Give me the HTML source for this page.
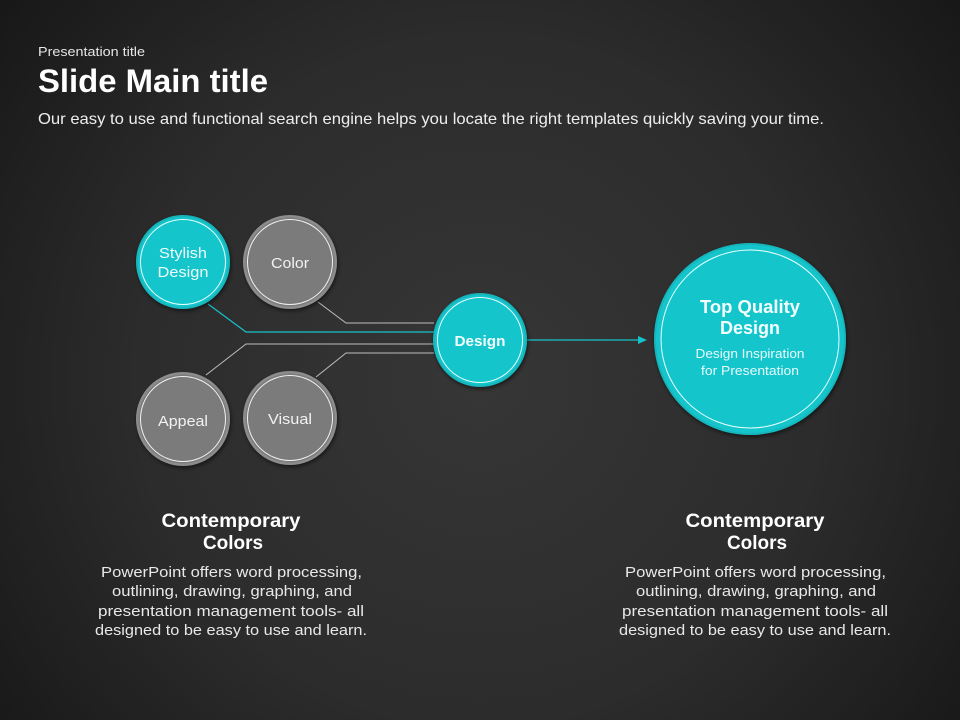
<!DOCTYPE html>
<html><head><meta charset="utf-8"><style>
html,body{margin:0;padding:0;background:#262626;}
svg{display:block;}
text{font-family:"Liberation Sans","DejaVu Sans",sans-serif;}
</style></head><body>
<svg width="960" height="720" viewBox="0 0 960 720" xmlns="http://www.w3.org/2000/svg">
<defs>
<radialGradient id="bg" cx="480" cy="380" r="620" gradientUnits="userSpaceOnUse">
<stop offset="0" stop-color="#363636"/>
<stop offset="0.55" stop-color="#2c2c2c"/>
<stop offset="1" stop-color="#171717"/>
</radialGradient>
<filter id="sh" x="-30%" y="-30%" width="160%" height="160%">
<feDropShadow dx="1" dy="2" stdDeviation="2" flood-color="#000" flood-opacity="0.55"/>
</filter>
</defs>
<rect width="960" height="720" fill="url(#bg)"/>

<text x="38" y="56" font-size="13" fill="#e6e6e6" textLength="107" lengthAdjust="spacingAndGlyphs">Presentation title</text>
<text x="38" y="92" font-size="32" font-weight="bold" fill="#ffffff" textLength="230" lengthAdjust="spacingAndGlyphs">Slide Main title</text>
<text x="38" y="124" font-size="16" fill="#eeeeee" textLength="786" lengthAdjust="spacingAndGlyphs">Our easy to use and functional search engine helps you locate the right templates quickly saving your time.</text>

<!-- connectors -->
<polyline points="318,302 346,323 434,323" fill="none" stroke="#bdbdbd" stroke-width="1"/>
<polyline points="208,304 246,332 434,332" fill="none" stroke="#14c3ca" stroke-width="1.2"/>
<polyline points="206,375 246,344 434,344" fill="none" stroke="#bdbdbd" stroke-width="1"/>
<polyline points="316,377 346,353 434,353" fill="none" stroke="#bdbdbd" stroke-width="1"/>
<line x1="527" y1="340" x2="640" y2="340" stroke="#14c3ca" stroke-width="1.2"/>
<polygon points="647,340 638,336 638,344" fill="#14c3ca"/>

<!-- Stylish Design -->
<g filter="url(#sh)"><circle cx="183" cy="262" r="47" fill="#19b6bd"/></g>
<circle cx="183" cy="262" r="45" fill="#14c5cc"/>
<circle cx="183" cy="262" r="42.5" fill="none" stroke="#e8ffff" stroke-width="1"/>
<text x="183" y="258" font-size="15" fill="#eefcfc" text-anchor="middle" textLength="48" lengthAdjust="spacingAndGlyphs">Stylish</text>
<text x="183" y="277" font-size="15" fill="#eefcfc" text-anchor="middle" textLength="51" lengthAdjust="spacingAndGlyphs">Design</text>

<!-- Color -->
<g filter="url(#sh)"><circle cx="290" cy="262" r="47" fill="#8c8c8c"/></g>
<circle cx="290" cy="262" r="44.5" fill="#7b7b7b"/>
<circle cx="290" cy="262" r="42.5" fill="none" stroke="#f2f2f2" stroke-width="1"/>
<text x="290" y="268" font-size="15" fill="#f2f2f2" text-anchor="middle" textLength="38" lengthAdjust="spacingAndGlyphs">Color</text>

<!-- Appeal -->
<g filter="url(#sh)"><circle cx="183" cy="419" r="47" fill="#8c8c8c"/></g>
<circle cx="183" cy="419" r="44.5" fill="#7b7b7b"/>
<circle cx="183" cy="419" r="42.5" fill="none" stroke="#f2f2f2" stroke-width="1"/>
<text x="183" y="426" font-size="15" fill="#f2f2f2" text-anchor="middle" textLength="50" lengthAdjust="spacingAndGlyphs">Appeal</text>

<!-- Visual -->
<g filter="url(#sh)"><circle cx="290" cy="418" r="47" fill="#8c8c8c"/></g>
<circle cx="290" cy="418" r="44.5" fill="#7b7b7b"/>
<circle cx="290" cy="418" r="42.5" fill="none" stroke="#f2f2f2" stroke-width="1"/>
<text x="290" y="424" font-size="15" fill="#f2f2f2" text-anchor="middle" textLength="44" lengthAdjust="spacingAndGlyphs">Visual</text>

<!-- Design hub -->
<g filter="url(#sh)"><circle cx="480" cy="340" r="47" fill="#19b6bd"/></g>
<circle cx="480" cy="340" r="45" fill="#14c5cc"/>
<circle cx="480" cy="340" r="42.5" fill="none" stroke="#e8ffff" stroke-width="1"/>
<text x="480" y="346" font-size="15" font-weight="bold" fill="#f4ffff" text-anchor="middle" textLength="51" lengthAdjust="spacingAndGlyphs">Design</text>

<!-- Big circle -->
<g filter="url(#sh)"><circle cx="750" cy="339" r="96" fill="#19b6bd"/></g>
<circle cx="750" cy="339" r="94" fill="#14c5cc"/>
<circle cx="750" cy="339" r="89" fill="none" stroke="#e8ffff" stroke-width="1"/>
<text x="750" y="313" font-size="18" font-weight="bold" fill="#f4ffff" text-anchor="middle" textLength="100" lengthAdjust="spacingAndGlyphs">Top Quality</text>
<text x="750" y="334" font-size="18" font-weight="bold" fill="#f4ffff" text-anchor="middle" textLength="60" lengthAdjust="spacingAndGlyphs">Design</text>
<text x="750" y="358" font-size="13" fill="#e6fbfb" text-anchor="middle" textLength="109" lengthAdjust="spacingAndGlyphs">Design Inspiration</text>
<text x="750" y="375" font-size="13" fill="#e6fbfb" text-anchor="middle" textLength="98" lengthAdjust="spacingAndGlyphs">for Presentation</text>

<!-- Left text block -->
<text x="231" y="527" font-size="19" font-weight="bold" fill="#ffffff" text-anchor="middle" textLength="139" lengthAdjust="spacingAndGlyphs">Contemporary</text>
<text x="233" y="549" font-size="19" font-weight="bold" fill="#ffffff" text-anchor="middle" textLength="60" lengthAdjust="spacingAndGlyphs">Colors</text>
<text x="231.5" y="577" font-size="15" fill="#e8e8e8" text-anchor="middle" textLength="261" lengthAdjust="spacingAndGlyphs">PowerPoint offers word processing,</text>
<text x="232" y="596" font-size="15" fill="#e8e8e8" text-anchor="middle" textLength="240" lengthAdjust="spacingAndGlyphs">outlining, drawing, graphing, and</text>
<text x="231" y="616" font-size="15" fill="#e8e8e8" text-anchor="middle" textLength="266" lengthAdjust="spacingAndGlyphs">presentation management tools- all</text>
<text x="231" y="635" font-size="15" fill="#e8e8e8" text-anchor="middle" textLength="272" lengthAdjust="spacingAndGlyphs">designed to be easy to use and learn.</text>

<!-- Right text block -->
<text x="755" y="527" font-size="19" font-weight="bold" fill="#ffffff" text-anchor="middle" textLength="139" lengthAdjust="spacingAndGlyphs">Contemporary</text>
<text x="757" y="549" font-size="19" font-weight="bold" fill="#ffffff" text-anchor="middle" textLength="60" lengthAdjust="spacingAndGlyphs">Colors</text>
<text x="755.5" y="577" font-size="15" fill="#e8e8e8" text-anchor="middle" textLength="261" lengthAdjust="spacingAndGlyphs">PowerPoint offers word processing,</text>
<text x="756" y="596" font-size="15" fill="#e8e8e8" text-anchor="middle" textLength="240" lengthAdjust="spacingAndGlyphs">outlining, drawing, graphing, and</text>
<text x="755" y="616" font-size="15" fill="#e8e8e8" text-anchor="middle" textLength="266" lengthAdjust="spacingAndGlyphs">presentation management tools- all</text>
<text x="755" y="635" font-size="15" fill="#e8e8e8" text-anchor="middle" textLength="272" lengthAdjust="spacingAndGlyphs">designed to be easy to use and learn.</text>
</svg>
</body></html>
